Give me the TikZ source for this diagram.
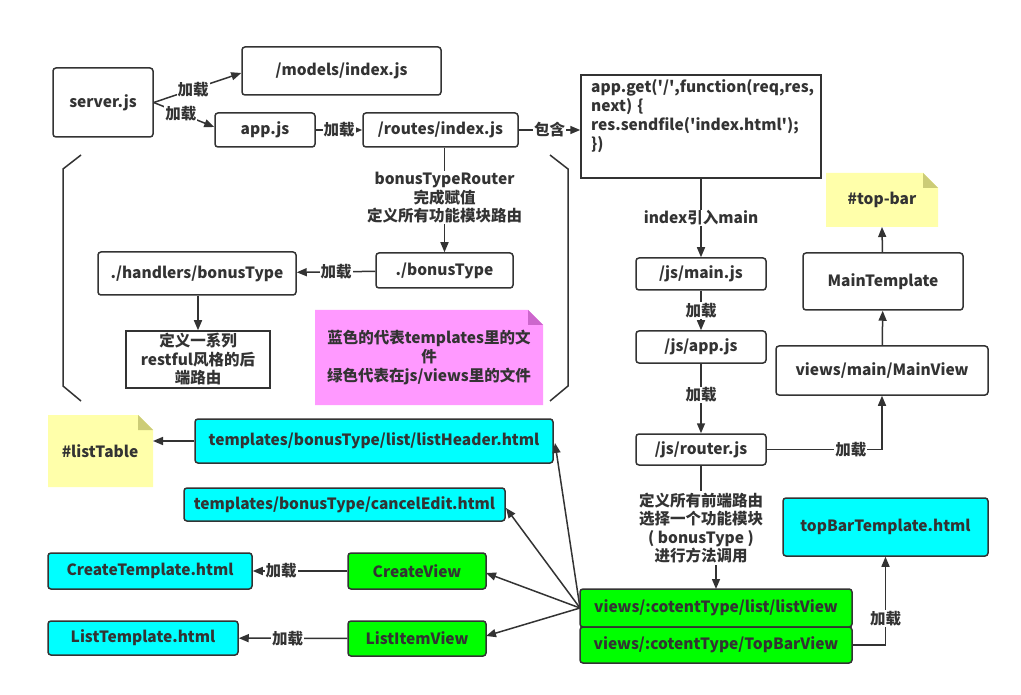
\documentclass[tikz,border=0pt]{standalone}
\usepackage{fontspec}
\setmainfont{Noto Sans CJK SC}
\usetikzlibrary{arrows.meta}
\definecolor{edge}{HTML}{333333}
\definecolor{txt}{HTML}{333333}
\definecolor{cyanfill}{HTML}{00FFFF}
\definecolor{greenfill}{HTML}{00FF00}
\definecolor{notey}{HTML}{FFFFAA}
\definecolor{noteyf}{HTML}{CCCC77}
\definecolor{notep}{HTML}{FF99FF}
\definecolor{notepf}{HTML}{CC66CC}
\tikzset{
  box/.style={draw=edge, line width=1.5pt, rounded corners=3pt, fill=white,
    font=\bfseries\fontsize{15.5}{18.5}\selectfont, text=txt, inner sep=0pt, align=center},
  sqbox/.style={box, rounded corners=0pt},
  cbox/.style={box, fill=cyanfill},
  gbox/.style={box, fill=greenfill},
  conn/.style={draw=edge, line width=1.5pt, -{Triangle[length=10pt,width=8pt]}},
  lbl/.style={fill=white, inner sep=1pt, text=txt, font=\bfseries\fontsize{15.5}{18.5}\selectfont, align=center},
  notetext/.style={text=txt, font=\bfseries\fontsize{15.5}{19}\selectfont, align=center, inner sep=0pt},
  bracket/.style={draw=edge, line width=1.5pt}
}
\begin{document}
\begin{tikzpicture}[x=1pt,y=-1pt]
\useasboundingbox (0,0) rectangle (1021,695);
\fill[white] (0,0) rectangle (1021,695);

% brackets
\draw[bracket] (81,155) -- (63,169) -- (63,386) -- (81,401);
\draw[bracket] (550,155) -- (568,169) -- (568,386) -- (550,401);

% top-left nodes
\node[box, minimum width=100, minimum height=69] (server) at (103,102.5) {server.js};
\node[box, minimum width=199, minimum height=48] (models) at (341.5,71) {/models/index.js};
\node[box, minimum width=100, minimum height=34] (appjs) at (265,130) {app.js};
\node[box, minimum width=155, minimum height=34] (routes) at (440.5,130) {/routes/index.js};
\node[sqbox, minimum width=240, minimum height=103] (appget) at (701,126.5) {};
\node[notetext, anchor=north west, align=left, text width=235] (appgettext) at (591,79)
  {app.get(\textquotesingle/\textquotesingle,function(req,res,\\next) \{\\res.sendfile(\textquotesingle index.html\textquotesingle);\\\})};
\node[box, minimum width=137, minimum height=35] (bonus) at (444.5,270.5) {./bonusType};
\node[box, minimum width=198, minimum height=43] (handlers) at (197,273.5) {./handlers/bonusType};
\node[sqbox, minimum width=144, minimum height=57] (restful) at (198,359.5) {定义一系列\\restful风格的后\\端路由};

% pink note
\fill[notep] (315,310) -- (528,310) -- (543,325) -- (543,405) -- (315,405) -- cycle;
\fill[notepf] (528,310) -- (543,325) -- (528,325) -- cycle;
\node[notetext] (legend) at (429,357.5) {蓝色的代表templates里的文\\件\\绿色代表在js/views里的文件};

% right column
\node[box, minimum width=130, minimum height=32] (main) at (701,274) {/js/main.js};
\node[box, minimum width=130, minimum height=32] (japp) at (701,347) {/js/app.js};
\node[box, minimum width=130, minimum height=31] (router) at (701,449.5) {/js/router.js};
\node[box, minimum width=160, minimum height=57] (maintpl) at (883,281.5) {MainTemplate};
\node[box, minimum width=212, minimum height=49] (mainview) at (882,370.5) {views/main/MainView};
\fill[notey] (826,173) -- (923,173) -- (938,188) -- (938,227) -- (826,227) -- cycle;
\fill[noteyf] (923,173) -- (938,188) -- (923,188) -- cycle;
\node[notetext] (topbar) at (882,200) {\#top-bar};
\coordinate (topbarb) at (882,227);
\node[cbox, minimum width=205, minimum height=58] (topbartpl) at (885.5,527) {topBarTemplate.html};
\node[gbox, minimum width=272, minimum height=38] (listview) at (716,608) {views/:cotentType/list/listView};
\node[gbox, minimum width=272, minimum height=36] (topbarview) at (716,645) {views/:cotentType/TopBarView};

% bottom-left
\fill[notey] (48,415) -- (138,415) -- (153,430) -- (153,487) -- (48,487) -- cycle;
\fill[noteyf] (138,415) -- (153,430) -- (138,430) -- cycle;
\node[notetext] (listtable) at (100,451) {\#listTable};
\coordinate (listtabler) at (153,441);
\node[cbox, minimum width=358, minimum height=44] (listheader) at (374,441) {templates/bonusType/list/listHeader.html};
\node[cbox, minimum width=321, minimum height=33] (canceledit) at (344.5,504.5) {templates/bonusType/cancelEdit.html};
\node[cbox, minimum width=204, minimum height=36] (createtpl) at (150,571) {CreateTemplate.html};
\node[gbox, minimum width=138, minimum height=36] (createview) at (417,571) {CreateView};
\node[cbox, minimum width=190, minimum height=34] (listtpl) at (143,638) {ListTemplate.html};
\node[gbox, minimum width=138, minimum height=35] (listitemview) at (417,638.5) {ListItemView};

% connectors top-left
\draw[conn] (server.east) -- node[lbl, pos=0.45] {加载} (models.west |- 0,73);
\draw[conn] (server.east) -- node[lbl, pos=0.45] {加载} (appjs.west |- 0,127);
\draw[conn] (appjs) -- node[lbl] {加载} (routes);
\draw[conn] (routes) -- node[lbl] {包含} (appget.west |- routes);
\draw[conn] (routes.south -| bonus.north) -- node[lbl, pos=0.48] {bonusTypeRouter\\完成赋值\\定义所有功能模块路由} (bonus.north);
\draw[conn] (bonus) -- node[lbl] {加载} (handlers);
\draw[conn] (handlers.south -| restful.north) -- (restful.north);

% right column connectors
\draw[conn] (appget.south -| main.north) -- node[lbl] {index引入main} (main.north);
\draw[conn] (main) -- node[lbl] {加载} (japp);
\draw[conn] (japp) -- node[lbl, pos=0.45] {加载} (router);
\draw[conn] (router.east) -- node[lbl, pos=0.73] {加载} (mainview.south |- router.east) -- (mainview.south);
\draw[conn] (mainview) -- (maintpl);
\draw[conn] (maintpl) -- (topbarb);
\draw[conn] (router.south) -- (701,528) -| (716,589);
\node[lbl, inner sep=2pt] (frontlabel) at (701,528) {定义所有前端路由\\选择一个功能模块\\( bonusType )\\进行方法调用};
\draw[conn] (topbarview.east) -- (topbartpl.south |- topbarview.east) -- node[lbl, pos=0.3] {加载} (topbartpl.south);

% fan-out from listView
\coordinate (fan) at (580,608);
\draw[conn] (fan) -- (555,443);
\draw[conn] (fan) -- (506,508);
\draw[conn] (fan) -- (486,573);
\draw[conn] (fan) -- (486,636);

% bottom-left connectors
\draw[conn] (listheader) -- (listtabler);
\draw[conn] (createview) -- node[lbl, pos=0.7] {加载} (createtpl);
\draw[conn] (listitemview) -- node[lbl, pos=0.55] {加载} (listtpl);
\end{tikzpicture}
\end{document}
